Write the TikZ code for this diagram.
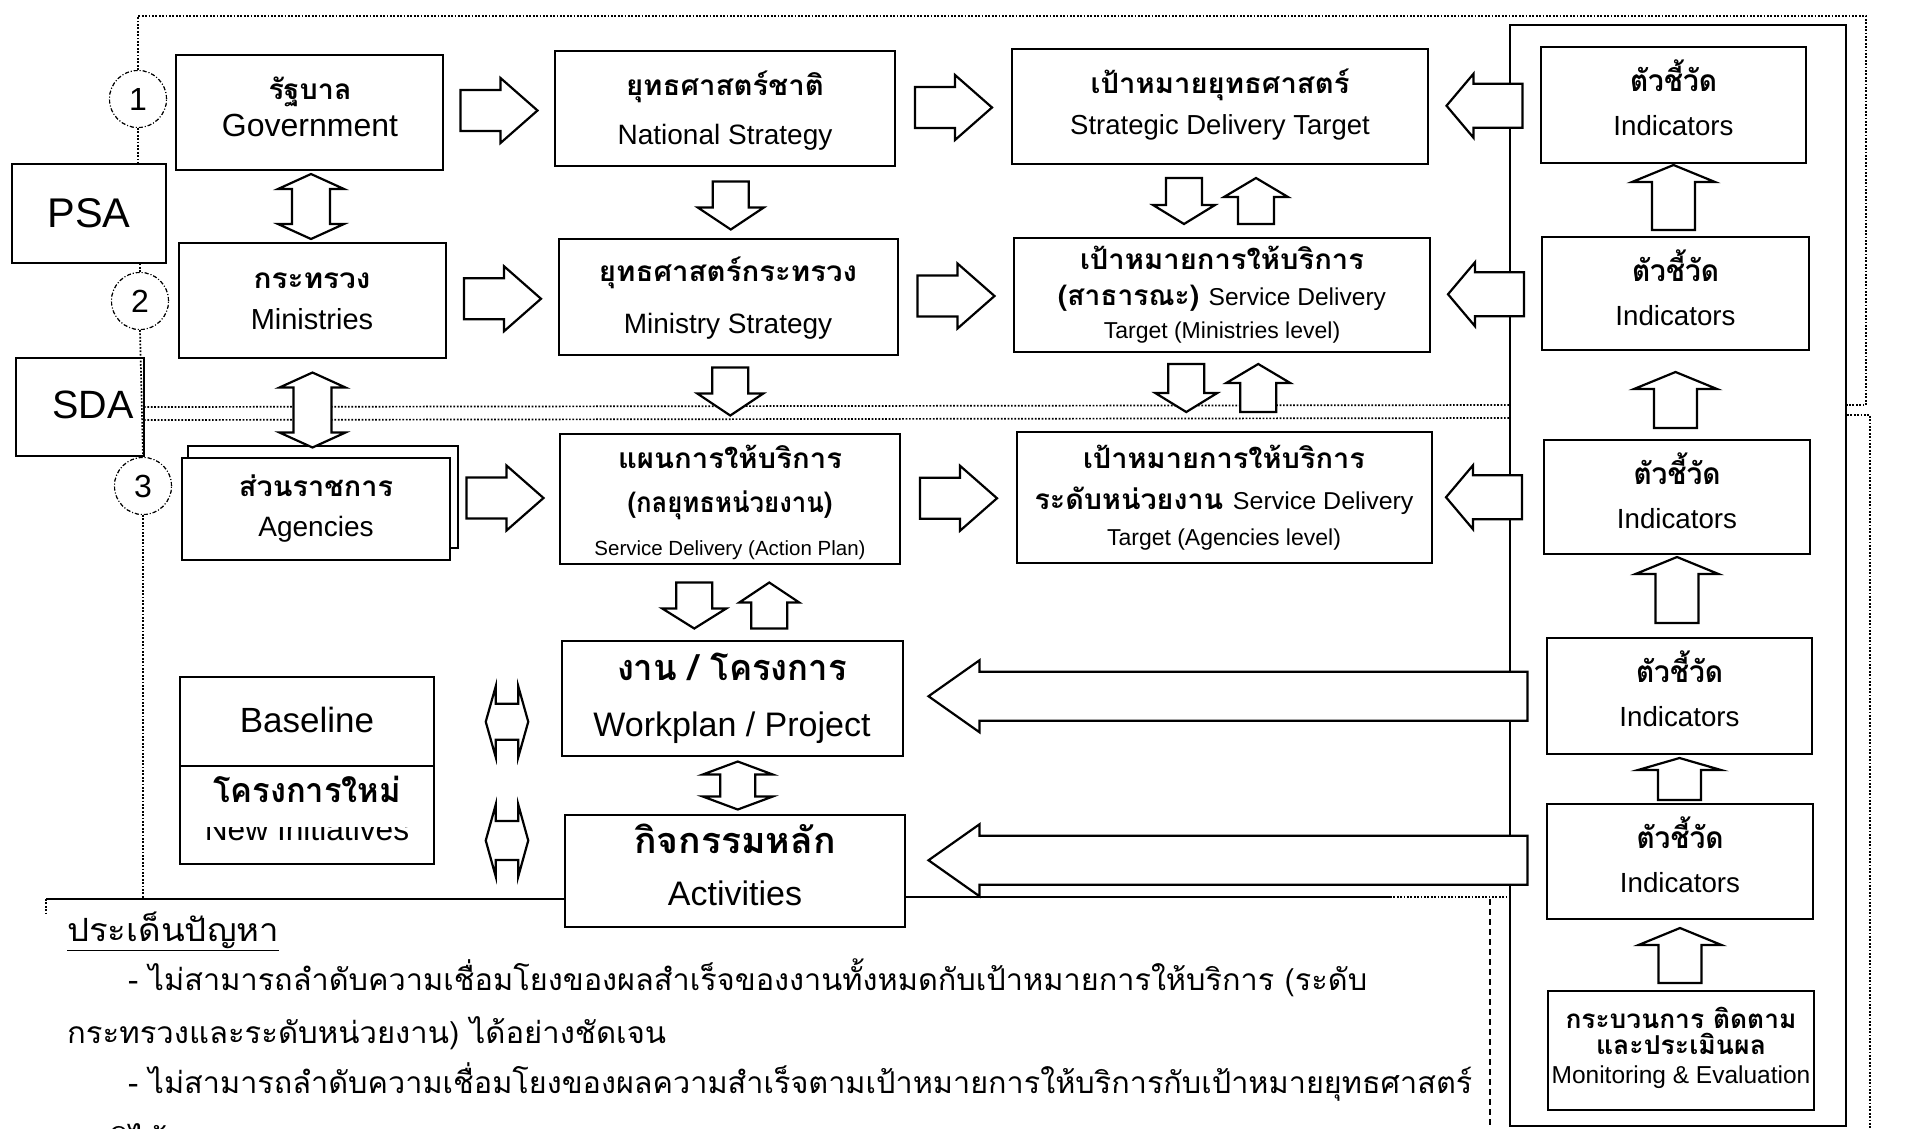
\documentclass[tikz,border=0pt]{standalone}
\usepackage{fontspec}
\usepackage{graphicx}
\setmainfont{Liberation Sans}
\newfontfamily\thai[Script=Thai]{Loma}
\usetikzlibrary{calc}
\newcommand\E[1]{\fontsize{#1}{#1}\selectfont}
\newcommand\TB[1]{\thai\bfseries\fontsize{#1}{#1}\selectfont}
\newcommand\TR[1]{\thai\fontsize{#1}{#1}\selectfont}
\newcommand\fw[2]{\resizebox{#1pt}{\height}{#2}}
% single block arrow centred at #1, direction #2, length #3, shaft half #4, head half #5, head length #6
\newcommand\blkC[6]{\draw[arr, shift={#1}, rotate=#2] ({#3/2},0) -- ({#3/2-#6},#5) -- ({#3/2-#6},#4) -- ({-#3/2},#4) -- ({-#3/2},-#4) -- ({#3/2-#6},-#4) -- ({#3/2-#6},-#5) -- cycle;}
% single block arrow with tip at #1
\newcommand\blkT[6]{\draw[arr, shift={#1}, rotate=#2] (0,0) -- (-#6,#5) -- (-#6,#4) -- (-#3,#4) -- (-#3,-#4) -- (-#6,-#4) -- (-#6,-#5) -- cycle;}
% double block arrow centred at #1
\newcommand\blkD[6]{\draw[arr, shift={#1}, rotate=#2] ({-#3/2},0) -- ({-#3/2+#6},#5) -- ({-#3/2+#6},#4) -- ({#3/2-#6},#4) -- ({#3/2-#6},#5) -- ({#3/2},0) -- ({#3/2-#6},-#5) -- ({#3/2-#6},-#4) -- ({-#3/2+#6},-#4) -- ({-#3/2+#6},-#5) -- cycle;}
\begin{document}
\begin{tikzpicture}[x=1pt,y=-1pt,
  box/.style={draw, line width=2.2pt, fill=white, inner sep=0pt, outer sep=0pt},
  arr/.style={draw, line width=2.2pt, fill=white, line join=miter},
  dotl/.style={line width=1.7pt, dash pattern=on 1.7pt off 1.7pt},
  thin/.style={line width=1.2pt},
  circ/.style={draw, circle, minimum size=57pt, inner sep=0pt, line width=1.1pt, dash pattern=on 4pt off 2pt on 1pt off 2pt, fill=white},
  tx/.style={anchor=mid, inner sep=0pt}]
\fill[white] (0,0) rectangle (1905,1128);
\useasboundingbox (0,0) rectangle (1905,1128);

% ---------- frames ----------
\node[draw, line width=2pt, minimum width=336pt, minimum height=1101pt, inner sep=0pt] (col) at (1678,575.5) {};
\node[circ, font=\E{32}] (c1) at (138,99) {1};
\node[circ, font=\E{32}] (c2) at (140,301) {2};
\node[circ, font=\E{32}] (c3) at (143,486) {3};
\node[box, minimum width=154pt, minimum height=99pt, font=\E{41.5}] (psa) at (89,213.5) {PSA};
\node[box, minimum width=128pt, minimum height=98pt] (sda) at (80,407) {};
\node[tx, font=\E{39.5}] (sdat) at (93,416) {SDA};

\draw[dotl] (c1.north) -- (c1.north |- 0,16) -- (1866,16) -- (1866,405) -- (col.east |- 0,405);
\draw[dotl] (c1.south) -- (c1.south |- psa.north);
\draw[dotl] (c2.north) -- (c2.north |- psa.south);
\draw[dotl] (c2.south) -- (c3.north);
\draw[dotl] (sda.east |- 0,407) -- (col.west |- 0,405);
\draw[dotl] (sda.east |- 0,420) -- (col.west |- 0,418);
\draw[dotl] (col.east |- 0,415) -- (1870,415) -- (1870,1128);
\draw[dotl] (c3.south) -- (c3.south |- 0,900);
\draw[thin] (46,899) -- (565,899);
\draw[thin] (905,897) -- (1390,897);
\draw[dotl, line width=1.2pt] (1390,897) -- (col.west |- 0,897);
\draw[dotl, line width=1.2pt] (46,899) -- (46,915);
\draw[thin, dash pattern=on 6pt off 4pt] (1490,899) -- (1490,1128);
% circles again on top of the dotted lines
\node[circ, font=\E{32}] (c1b) at (c1) {1};
\node[circ, font=\E{32}] (c2b) at (c2) {2};
\node[circ, font=\E{32}] (c3b) at (c3) {3};

% ---------- boxes ----------
\node[box, minimum width=267pt, minimum height=115pt] (gov) at (309.5,112.5) {};
\node[box, minimum width=267pt, minimum height=115pt] (min) at (312.5,300.5) {};
\node[box, minimum width=270pt, minimum height=102pt] (agb) at (323,497) {};
\node[box, minimum width=268pt, minimum height=102pt] (agf) at (316,509) {};
\node[box, minimum width=340pt, minimum height=115pt] (nat) at (725,108.5) {};
\node[box, minimum width=339pt, minimum height=116pt] (ms) at (728.5,297) {};
\node[box, minimum width=340pt, minimum height=130pt] (act) at (730,499) {};
\node[box, minimum width=341pt, minimum height=115pt] (wp) at (732.5,698.5) {};
\node[box, minimum width=340pt, minimum height=112pt] (acv) at (735,871) {};
\node[box, minimum width=416pt, minimum height=115pt] (sdt) at (1220,106.5) {};
\node[box, minimum width=416pt, minimum height=114pt] (sdm) at (1222,295) {};
\node[box, minimum width=415pt, minimum height=131pt] (sag) at (1224.5,497.5) {};
\node[box, minimum width=254pt, minimum height=187pt] (base) at (307,770.5) {};
\draw[line width=2.2pt] (base.west |- 0,766) -- (base.east |- 0,766);
\node[box, minimum width=265pt, minimum height=116pt] (ind1) at (1673.5,105) {};
\node[box, minimum width=267pt, minimum height=113pt] (ind2) at (1675.5,293.5) {};
\node[box, minimum width=266pt, minimum height=114pt] (ind3) at (1677,497) {};
\node[box, minimum width=265pt, minimum height=116pt] (ind4) at (1679.5,696) {};
\node[box, minimum width=266pt, minimum height=115pt] (ind5) at (1680,861.5) {};
\node[box, minimum width=266pt, minimum height=119pt] (me) at (1681,1050.5) {};

% ---------- texts ----------
\node[tx, font=\TB{28}] (t1a) at (310,97) {\fw{83}{รัฐบาล}};
\node[tx, font=\E{32}] (t1b) at (310,134) {Government};
\node[tx, font=\TB{28}] (t2a) at (312,286) {\fw{117}{กระทรวง}};
\node[tx, font=\E{29}] (t2b) at (312,327) {Ministries};
\node[tx, font=\TB{28}] (t3a) at (316,494) {\fw{154}{ส่วนราชการ}};
\node[tx, font=\E{28}] (t3b) at (316,534) {Agencies};
\node[tx, font=\TB{28}] (t4a) at (725,93) {\fw{198}{ยุทธศาสตร์ชาติ}};
\node[tx, font=\E{28}] (t4b) at (725,142) {National Strategy};
\node[tx, font=\TB{28}] (t5a) at (728,279) {\fw{258}{ยุทธศาสตร์กระทรวง}};
\node[tx, font=\E{28}] (t5b) at (728,331) {Ministry Strategy};
\node[tx, font=\TB{28}] (t6a) at (730,466) {\fw{224}{แผนการให้บริการ}};
\node[tx, font=\TB{28}] (t6b) at (730,510) {\fw{205}{(กลยุทธหน่วยงาน)}};
\node[tx, font=\E{20.5}] (t6c) at (730,553) {Service Delivery (Action Plan)};
\node[tx, font=\TB{36}] (t7a) at (732,678) {\fw{230}{งาน / โครงการ}};
\node[tx, font=\E{34}] (t7b) at (732,734) {Workplan / Project};
\node[tx, font=\TB{36}] (t8a) at (735,851) {\fw{202}{กิจกรรมหลัก}};
\node[tx, font=\E{34}] (t8b) at (735,903) {Activities};
\node[tx, font=\TB{28}] (t9a) at (1220,91) {\fw{259}{เป้าหมายยุทธศาสตร์}};
\node[tx, font=\E{27.5}] (t9b) at (1220,132) {Strategic Delivery Target};
\node[tx, font=\TB{28}] (t10a) at (1222,267) {\fw{284}{เป้าหมายการให้บริการ}};
\node[tx, font=\TB{28}] (t10b) at (1222,303) {\fw{328}{(สาธารณะ) {\normalfont\E{24.4}Service Delivery}}};
\node[tx, font=\E{23}] (t10c) at (1222,336) {Target (Ministries level)};
\node[tx, font=\TB{28}] (t11a) at (1224,466) {\fw{282}{เป้าหมายการให้บริการ}};
\node[tx, font=\TB{28}] (t11b) at (1224,507) {\fw{379}{ระดับหน่วยงาน {\normalfont\E{24.4}Service Delivery}}};
\node[tx, font=\E{23}] (t11c) at (1224,543) {Target (Agencies level)};
\node[tx, font=\E{35}] (t12a) at (307,730) {Baseline};
\node[tx, font=\TB{34}] (t12b) at (307,800) {\fw{188}{โครงการใหม่}};
\begin{scope}
\clip (180,827) rectangle (434,864);
\node[tx, font=\E{31.7}] (t12c) at (307,838) {New Initiatives};
\end{scope}
\foreach \i in {1,...,5} {
  \node[tx, font=\TB{30}] (ia\i) at ($(ind\i.north)+(0,42)$) {\fw{87}{ตัวชี้วัด}};
  \node[tx, font=\E{27.7}] (ib\i) at ($(ind\i.north)+(0,86)$) {Indicators};
}
\node[tx, font=\TB{26}] (m1) at (1681,1026) {\fw{231}{กระบวนการ ติดตาม}};
\node[tx, font=\TB{26}] (m2) at (1681,1052) {\fw{170}{และประเมินผล}};
\node[tx, font=\E{24.5}] (m3) at (1681,1081) {Monitoring \& Evaluation};

\node[anchor=mid west, inner sep=0pt, font=\TR{32}] (p0) at (67,939) {\fw{212}{\underline{ประเด็นปัญหา}}};
\node[anchor=mid west, inner sep=0pt, font=\TR{30}] (p1) at (128,988) {\fw{1239}{- ไม่สามารถลำดับความเชื่อมโยงของผลสำเร็จของงานทั้งหมดกับเป้าหมายการให้บริการ (ระดับ}};
\node[anchor=mid west, inner sep=0pt, font=\TR{30}] (p2) at (67,1041) {\fw{599}{กระทรวงและระดับหน่วยงาน) ได้อย่างชัดเจน}};
\node[anchor=mid west, inner sep=0pt, font=\TR{30}] (p3) at (128,1091) {\fw{1344}{- ไม่สามารถลำดับความเชื่อมโยงของผลความสำเร็จตามเป้าหมายการให้บริการกับเป้าหมายยุทธศาสตร์}};
\node[anchor=mid west, inner sep=0pt, font=\TR{30}] (p4) at (67,1148) {\fw{100}{ชาติได้}};

% ---------- block arrows ----------
\blkC{($(gov.east)!0.5!(nat.west)$)}{0}{77}{20.5}{32.5}{37}
\blkC{($(nat.east)!0.5!(sdt.west)$)}{0}{77}{20.5}{32.5}{37}
\blkC{($(min.east)!0.5!(ms.west)$)}{0}{77}{20.5}{32.5}{37}
\blkC{($(ms.east)!0.5!(sdm.west)$)}{0}{77}{20.5}{32.5}{37}
\blkC{($(agf.east)!0.5!(act.west)+(0,-6)$)}{0}{77}{20.5}{32.5}{37}
\blkC{($(act.east)!0.5!(sag.west)$)}{0}{77}{20.5}{32.5}{37}

\blkC{($(nat.south)!0.5!(ms.north)+(4,3)$)}{-90}{48}{18}{33}{22}
\blkC{($(ms.south)!0.5!(act.north)+(1,-3)$)}{-90}{48}{18}{33}{22}
\blkC{($(sdt.south)!0.5!(sdm.north)+(-37,0)$)}{-90}{46}{18}{31}{19}
\blkC{($(sdt.south)!0.5!(sdm.north)+(35,0)$)}{90}{46}{18}{32}{19}
\blkC{($(sdm.south)!0.5!(sag.north)+(-37,-4)$)}{-90}{48}{18}{31}{19}
\blkC{($(sdm.south)!0.5!(sag.north)+(35,-4)$)}{90}{48}{18}{32}{19}
\blkC{($(act.south)!0.5!(wp.north)+(-37,3)$)}{-90}{46}{18}{32}{20}
\blkC{($(act.south)!0.5!(wp.north)+(38,3)$)}{90}{46}{18}{30}{20}

\blkD{($(gov.south)!0.5!(min.north)$)}{90}{65}{19}{33}{15}
\blkD{($(min.south)+(0,52)$)}{90}{75}{19}{33}{15}
\blkD{($(wp.south)!0.5!(acv.north)+(4,0)$)}{90}{48}{17.5}{35}{13}
\blkD{($(base.north east)!0.5!(base.east)+(73,-2)$)}{0}{42.5}{18}{35.5}{10}
\blkD{($(base.east)+(73,70)$)}{0}{42.5}{19.5}{36}{10}

\blkC{($(wp.east)!0.5!(ind4.west)+(3,-1)$)}{180}{599}{24.5}{36}{51}
\blkC{($(acv.east)!0.5!(ind5.west)+(2,-6)$)}{180}{599}{24.5}{36}{51}
\blkC{($(sdt.east)!0.5!(ind1.west)$)}{180}{76}{22}{32}{27}
\blkC{($(sdm.east)!0.5!(ind2.west)$)}{180}{76}{22}{32}{27}
\blkC{($(sag.east)!0.5!(ind3.west)+(-4,0)$)}{180}{76}{22}{32}{27}

\blkT{($(ind1.south)+(0,2)$)}{90}{65}{21.5}{41.5}{17}
\blkT{($(ind2.south)+(0,22)$)}{90}{56}{21.5}{41.5}{17}
\blkT{($(ind3.south)+(0,3)$)}{90}{66}{21.5}{41.5}{17}
\blkT{($(ind4.south)+(0,4)$)}{90}{42}{21.5}{41.5}{12}
\blkT{($(ind5.south)+(0,9)$)}{90}{55}{21.5}{41.5}{17}
\end{tikzpicture}
\end{document}
